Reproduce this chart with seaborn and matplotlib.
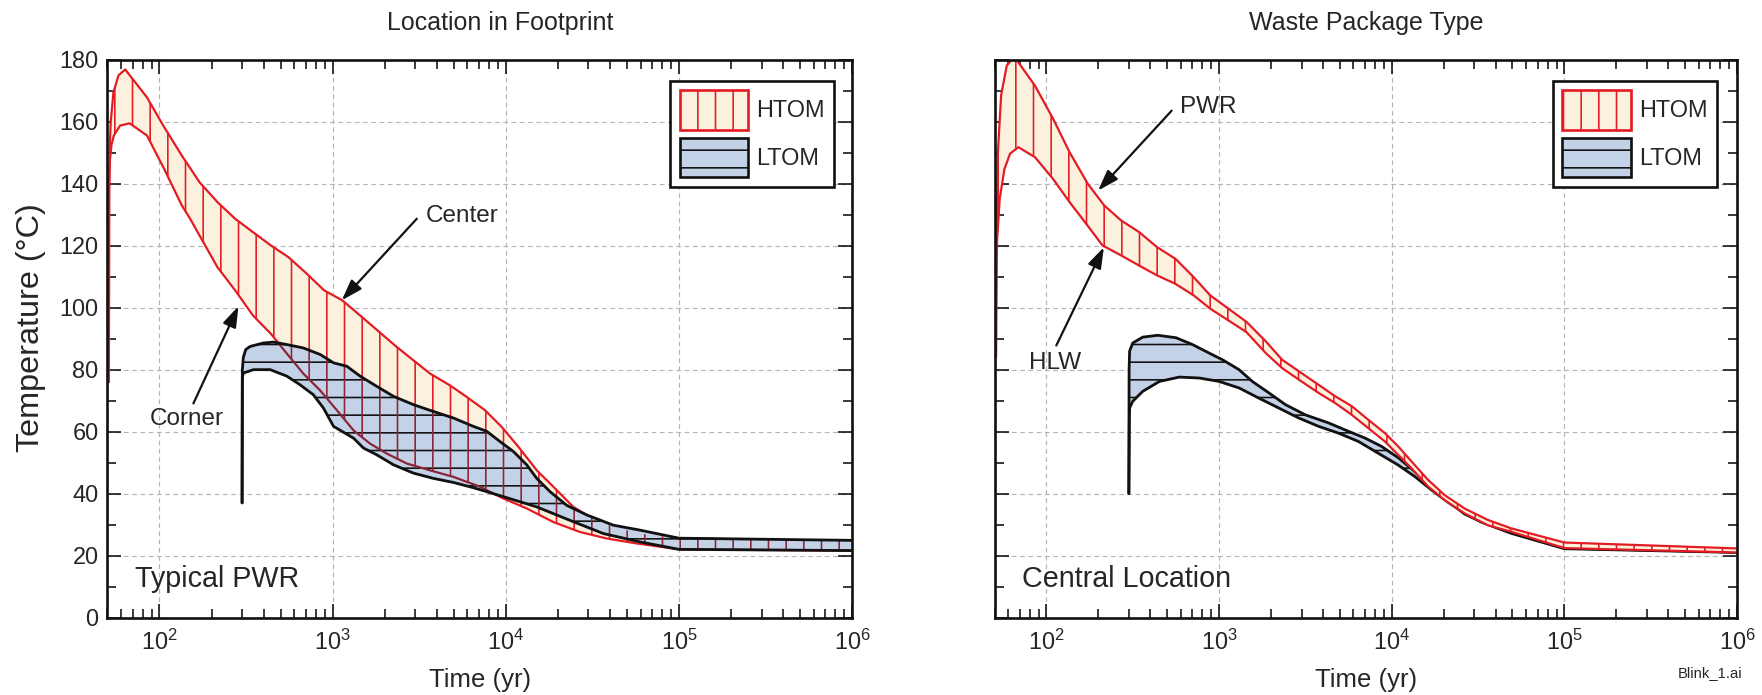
import matplotlib
matplotlib.use("Agg")
import matplotlib.pyplot as plt
from matplotlib.patches import Patch
from matplotlib.ticker import FixedLocator, LogLocator, MultipleLocator, FuncFormatter, NullFormatter
import numpy as np
import seaborn as sns

# ---------------------------------------------------------------- data
decade_ticks = [1e2, 1e3, 1e4, 1e5, 1e6]
temp_ticks = [0, 20, 40, 60, 80, 100, 120, 140, 160, 180]
panel_titles = ["Location in Footprint", "Waste Package Type"]
panel_notes = ["Typical PWR", "Central Location"]
legend_labels = ["HTOM", "LTOM"]

# Location in footprint, HTOM: centre and corner of the repository
footprint_center_yr = [51, 51.2, 51.6, 52.3, 54.2, 58, 63.4, 84.6, 106.4, 134.6, 170.3, 216,
                       273.5, 346.5, 439.5, 556, 708, 893, 1135, 1440, 1813, 2350, 2930, 3660,
                       4770, 5950, 7590, 9480, 11830, 15100, 18840, 24550, 30680, 41800, 59600,
                       1e5, 1e6]
footprint_center_temp = [76, 140, 152, 160, 169.5, 175, 176.9, 167.9, 158.3, 149.1, 140.5, 134.1,
                         128.7, 124.4, 120.1, 116.3, 111, 105.6, 102.4, 97.5, 92.7, 87.3, 83, 78.7,
                         74.9, 71.2, 66.9, 61.5, 55.1, 47.5, 42.2, 35.7, 32.4, 29.2, 27.1,
                         25.6, 24.6]
footprint_corner_yr = [51, 51.2, 51.8, 52.8, 54.5, 59.3, 67.2, 84.6, 106.4, 134.6, 150.3, 170.3,
                       216, 273.5, 346.5, 439.5, 544, 678, 847, 1058, 1320, 1647, 2057, 2682,
                       3655, 4980, 7110, 9690, 13210, 18840, 26870, 38310, 57060, 1e5, 1e6]
footprint_corner_temp = [76, 138, 148, 152.5, 155.6, 158.8, 159.5, 155.6, 144.8, 133, 128.7, 123.3,
                         113.1, 105.6, 97.5, 91.6, 85.2, 78.7, 73.3, 66.9, 60.4, 56.1, 52.9, 49.7,
                         47.5, 45.4, 42.2, 38.4, 35.2, 30.8, 27.6, 25.5, 23.9, 22.0, 21.6]

# Location in footprint, LTOM band
footprint_ltom_upper_yr = [300, 301, 305, 315, 334, 398, 455, 544, 678, 847, 1012, 1208, 1442,
                           1800, 2245, 2930, 3822, 4980, 6500, 7762, 9260, 11060, 13210, 15100,
                           18040, 22500, 29360, 41800, 59600, 1e5, 1e6]
footprint_ltom_upper_temp = [37, 80, 84, 86.5, 87.5, 88.6, 88.9, 88.1, 87, 84.9, 82.2, 81.1, 77.9,
                             74.6, 71.4, 68.7, 66.5, 64.4, 61.7, 60.1, 56.8, 53.6, 49.3, 44.9,
                             40.6, 36.2, 33.1, 29.8, 28.2, 25.6, 24.9]
footprint_ltom_lower_yr = [300, 301, 305, 349, 436, 544, 649, 774, 885, 1012, 1320, 1507, 1800,
                           2245, 2930, 3822, 4980, 6500, 9690, 15100, 23380, 36600, 59600, 1e5, 1e6]
footprint_ltom_lower_temp = [37, 77.5, 78.9, 80, 80, 77.9, 75.1, 71.9, 67.6, 61.7, 57.9, 54.7, 52.5,
                             49.3, 46.6, 44.9, 43.6, 41.9, 39, 35.7, 31.4, 27.1, 24.4, 22.0, 21.6]

# Waste package type, HTOM: PWR and HLW packages
package_pwr_yr = [51, 51.2, 52.2, 54.6, 58.9, 65.2, 85.7, 109.2, 136, 173.4, 216, 270, 344, 438,
                  558, 711, 887, 1131, 1441, 1858, 2316, 2890, 3767, 4706, 5870, 7320, 9130,
                  10900, 13000, 16230, 20250, 26400, 35980, 49000, 1e5, 1e6]
package_pwr_temp = [84, 117, 149.1, 168.5, 178.2, 181, 171.7, 161, 150.2, 140, 133, 128.2, 124.4,
                    119.5, 115.8, 109.9, 104, 99.7, 95.4, 89.2, 83.2, 79.5, 75.1, 71.4, 68.2, 63.8,
                    59.5, 55.2, 50.4, 44.4, 39.5, 35.2, 31.5, 28.8, 24.2, 22.3]
package_hlw_yr = [51, 51.2, 51.7, 53.6, 57.1, 61.5, 68.7, 85.7, 109, 136, 173, 211, 270, 344, 438,
                  558, 711, 887, 1131, 1441, 1858, 2316, 2890, 3767, 4706, 5870, 7320, 9130,
                  10900, 13000, 16230, 20250, 26400, 35980, 49000, 1e5, 1e6]
package_hlw_temp = [84, 100, 121.2, 135.2, 144.8, 149.7, 151.8, 148.6, 141.6, 134.1, 126.5, 120.1,
                    116.9, 113.6, 110.4, 107.7, 104, 99.7, 95.9, 92.1, 85.4, 80.5, 76.8, 72.5,
                    69.2, 65.4, 61.1, 56.8, 52.5, 48.2, 42.3, 37.9, 33.6, 29.8, 27.7, 22.4, 21.0]

# Waste package type, LTOM band
package_ltom_upper_yr = [300, 301, 303, 316, 361, 441, 563, 701, 837, 1045, 1304, 1556, 1942,
                         2423, 3160, 4305, 5610, 7010, 8740, 9980, 10900, 13600, 16960, 21200,
                         26400, 32960, 49000, 1e5, 1e6]
package_ltom_upper_temp = [40, 80, 86, 88.6, 90.5, 91.1, 90.3, 88.1, 85.9, 83.2, 80, 76.2, 72.5,
                           68.7, 65.4, 62.8, 60.1, 57.9, 55.2, 53, 51.6, 47.1, 42.3, 37.9,
                           33.4, 31, 27.5, 22.4, 21.1]
package_ltom_lower_yr = [300, 302, 303, 316, 361, 451, 588, 767, 1000, 1304, 1700, 2218, 2890,
                         3767, 4920, 6420, 8360, 10900, 13600, 16960, 21200, 26400, 32960, 49000,
                         1e5, 1e6]
package_ltom_lower_temp = [40, 64, 67.6, 69.8, 73, 76.2, 77.6, 77.3, 76.2, 74.1, 70.8, 67.6, 64.4,
                           61.7, 59.5, 56.8, 53, 49.2, 45.5, 41.2, 37.2, 33.6, 30.8, 27.2, 22.2, 21.0]

# Annotation anchors (year, temperature)
center_label = (3470, 129.6)
center_arrow = ((3062, 128.7), (1130, 102.4))
corner_label = (143, 64)
corner_arrow = ((157, 69.1), (286, 100.5))
pwr_label = (593, 164.7)
pwr_arrow = ((531, 163.6), (199, 137.8))
hlw_label = (112.5, 82.1)
hlw_arrow = ((114, 87.8), (215, 119.5))

# ---------------------------------------------------------------- style
RED = "#e31b23"
CREAM = "#fcf1de"
BLUE = "#c3d2e6"
MAROON = "#8c2438"
BLACK = "#111111"

sns.set_style("ticks")
plt.rcParams["font.family"] = ["Liberation Sans", "DejaVu Sans"]
plt.rcParams["mathtext.fontset"] = "custom"
plt.rcParams["mathtext.rm"] = "Liberation Sans"
plt.rcParams["hatch.linewidth"] = 1.1

DPI = 106
fig = plt.figure(figsize=(1763 / DPI, 695 / DPI), dpi=DPI)
fig.patch.set_facecolor("white")

ax_left = fig.add_axes([0.0609, 0.1115, 0.4224, 0.8024])
ax_right = fig.add_axes([0.5641, 0.1115, 0.4212, 0.8024])


def decade_label(v, pos):
    return r"$\mathregular{10^{%d}}$" % int(round(np.log10(v)))


def setup_axes(ax, show_ylabels):
    ax.set_xscale("log")
    ax.set_xlim(50, 1e6)
    ax.set_ylim(0, 180)
    ax.set_facecolor("white")
    ax.xaxis.set_major_locator(FixedLocator(decade_ticks))
    ax.xaxis.set_minor_locator(LogLocator(base=10, subs=np.arange(2, 10)))
    ax.xaxis.set_major_formatter(FuncFormatter(decade_label))
    ax.xaxis.set_minor_formatter(NullFormatter())
    ax.yaxis.set_major_locator(FixedLocator(temp_ticks))
    ax.yaxis.set_minor_locator(MultipleLocator(10))
    ax.tick_params(which="both", direction="in", top=True, right=True,
                   width=1.1, color=BLACK)
    ax.tick_params(which="major", length=9.5)
    ax.tick_params(which="minor", length=5.8)
    ax.tick_params(axis="x", which="major", labelsize=16, pad=8.5)
    ax.tick_params(axis="y", which="major", labelsize=16, pad=6, labelleft=show_ylabels)
    ax.grid(True, which="major", linestyle=(0, (4, 3)), color="#b5b5b5", lw=0.8)
    ax.set_axisbelow(True)
    for sp in ax.spines.values():
        sp.set_linewidth(1.8)
        sp.set_color(BLACK)
        sp.set_zorder(10)


def draw_band(ax, ux, uy, lx, ly, face, edge, hatch, lw, z):
    xs = list(ux) + list(lx)[::-1]
    ys = list(uy) + list(ly)[::-1]
    poly = ax.fill(xs, ys, facecolor=face, edgecolor=edge, hatch=hatch,
                   linewidth=0, zorder=z)[0]
    sns.lineplot(x=ux, y=uy, ax=ax, color=edge, lw=lw, sort=False,
                 estimator=None, zorder=z + 0.5)
    sns.lineplot(x=lx, y=ly, ax=ax, color=edge, lw=lw, sort=False,
                 estimator=None, zorder=z + 0.5)
    return poly


def arrow(ax, tail, tip):
    ax.annotate("", xy=tip, xytext=tail,
                arrowprops=dict(arrowstyle="-|>,head_length=0.6,head_width=0.2",
                                color=BLACK, lw=1.5, shrinkA=0, shrinkB=0,
                                mutation_scale=20),
                zorder=6)


for ax in (ax_left, ax_right):
    setup_axes(ax, ax is ax_left)

# ---- left panel: location in footprint
draw_band(ax_left, footprint_center_yr, footprint_center_temp,
          footprint_corner_yr, footprint_corner_temp, CREAM, RED, "|", 1.5, 2)
ltom_left = draw_band(ax_left, footprint_ltom_upper_yr, footprint_ltom_upper_temp,
                      footprint_ltom_lower_yr, footprint_ltom_lower_temp,
                      BLUE, BLACK, "-", 1.9, 3)
# HTOM hatching and corner curve seen through the LTOM band
xs_h = footprint_center_yr + footprint_corner_yr[::-1]
ys_h = footprint_center_temp + footprint_corner_temp[::-1]
seen = ax_left.fill(xs_h, ys_h, facecolor="none", edgecolor=MAROON, hatch="|",
                    linewidth=0, zorder=3.2)[0]
seen.set_clip_path(ltom_left)
corner_seen = ax_left.plot(footprint_corner_yr, footprint_corner_temp, color=MAROON,
                           lw=1.5, zorder=3.3)[0]
corner_seen.set_clip_path(ltom_left)

# ---- right panel: waste package type
draw_band(ax_right, package_ltom_upper_yr, package_ltom_upper_temp,
          package_ltom_lower_yr, package_ltom_lower_temp, BLUE, BLACK, "-", 1.9, 2)
draw_band(ax_right, package_pwr_yr, package_pwr_temp,
          package_hlw_yr, package_hlw_temp, CREAM, RED, "|", 1.5, 3)

# ---- annotations
ax_left.text(*center_label, "Center", fontsize=16.5, ha="left", va="center", zorder=7)
arrow(ax_left, *center_arrow)
ax_left.text(*corner_label, "Corner", fontsize=16.5, ha="center", va="center", zorder=7)
arrow(ax_left, *corner_arrow)
ax_right.text(*pwr_label, "PWR", fontsize=16.5, ha="left", va="center", zorder=7)
arrow(ax_right, *pwr_arrow)
ax_right.text(*hlw_label, "HLW", fontsize=16.5, ha="center", va="center", zorder=7)
arrow(ax_right, *hlw_arrow)

for ax, note in zip((ax_left, ax_right), panel_notes):
    ax.text(0.037, 0.069, note, transform=ax.transAxes, fontsize=19.5,
            ha="left", va="center", zorder=7)

ax_left.set_title(panel_titles[0], fontsize=17, pad=20, x=0.527)
ax_right.set_title(panel_titles[1], fontsize=17, pad=20)
for ax in (ax_left, ax_right):
    ax.set_xlabel("Time (yr)", fontsize=17.5, labelpad=9)
    ax.set_ylabel("")
ax_left.set_ylabel("Temperature (°C)", fontsize=22, labelpad=10)
ax_left.yaxis.set_label_coords(-0.083, 0.52)

# ---- legends
handles = [Patch(facecolor=CREAM, edgecolor=RED, hatch="|", linewidth=1.8),
           Patch(facecolor=BLUE, edgecolor=BLACK, hatch="-", linewidth=1.8)]
for ax, xa in ((ax_left, 0.9758), (ax_right, 0.9727)):
    leg = ax.legend(handles, legend_labels, loc="upper right",
                    bbox_to_anchor=(xa, 0.9625), borderaxespad=0, fontsize=16,
                    handlelength=2.9, handleheight=2.2, handletextpad=0.35,
                    labelspacing=0.35, borderpad=0.4, fancybox=False,
                    framealpha=1, edgecolor=BLACK)
    leg.get_frame().set_linewidth(1.8)
    leg.set_zorder(8)

fig.text(0.970, 0.0317, "Blink_1.ai", fontsize=10, ha="center", va="center")

fig.savefig("out.png", dpi=DPI, facecolor="white")
